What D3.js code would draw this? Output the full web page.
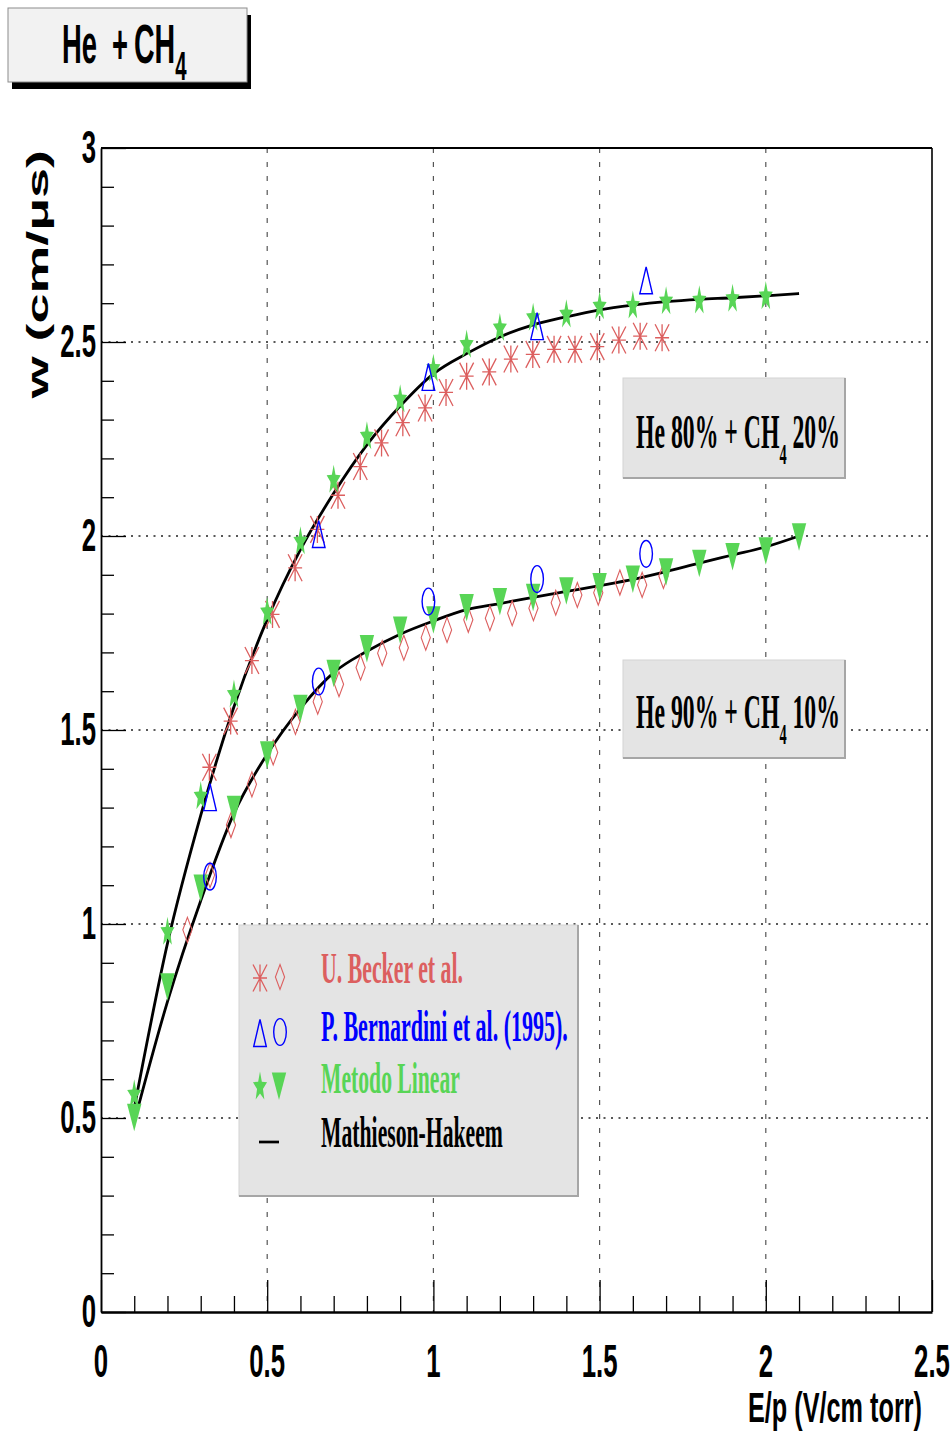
<!DOCTYPE html>
<html>
<head>
<meta charset="utf-8">
<script src="https://cdn.jsdelivr.net/npm/d3@7"></script>
<style>
  html, body { margin: 0; padding: 0; background: #fff; }
  svg { display: block; }
</style>
</head>
<body>
<script>
// ---- Data -------------------------------------------------------------

// Axis ticks
const xMajorTicks = [0, 0.5, 1, 1.5, 2, 2.5];
const xTickLabels = ["0", "0.5", "1", "1.5", "2", "2.5"];
const yMajorTicks = [0, 0.5, 1, 1.5, 2, 2.5, 3];
const yTickLabels = ["0", "0.5", "1", "1.5", "2", "2.5", "3"];

// U. Becker et al. — He 80% + CH4 20% (asterisks)
const beckerX80 = [0.326, 0.390, 0.454, 0.516, 0.584, 0.651, 0.713, 0.780, 0.844, 0.908, 0.975,
                   1.038, 1.100, 1.168, 1.233, 1.299, 1.363, 1.426, 1.493, 1.558, 1.622, 1.688];
const beckerY80 = [1.404, 1.523, 1.679, 1.798, 1.918, 2.017, 2.105, 2.179, 2.240, 2.292, 2.330,
                   2.370, 2.412, 2.423, 2.456, 2.468, 2.481, 2.481, 2.488, 2.505, 2.515, 2.511];

// U. Becker et al. — He 90% + CH4 10% (diamonds)
const beckerX90 = [0.260, 0.328, 0.391, 0.454, 0.518, 0.585, 0.652, 0.716, 0.781, 0.846, 0.911,
                   0.977, 1.041, 1.105, 1.170, 1.237, 1.301, 1.368, 1.433, 1.496, 1.561, 1.628, 1.692];
const beckerY90 = [0.985, 1.126, 1.255, 1.360, 1.442, 1.521, 1.573, 1.618, 1.661, 1.698, 1.712,
                   1.738, 1.758, 1.784, 1.788, 1.801, 1.814, 1.828, 1.848, 1.854, 1.880, 1.874, 1.897];

// P. Bernardini et al. (1995)
const bernardiniX = [0.328, 0.655, 0.985, 1.312, 1.640];
const bernardiniY80 = [1.327, 2.005, 2.410, 2.541, 2.659];   // triangles
const bernardiniY90 = [1.122, 1.625, 1.831, 1.889, 1.954];   // circles

// Metodo Linear
const linearX80 = [0.1, 0.2, 0.3, 0.4, 0.5, 0.6, 0.7, 0.8, 0.9, 1.0,
                   1.1, 1.2, 1.3, 1.4, 1.5, 1.6, 1.7, 1.8, 1.9, 2.0];
const linearY80 = [0.560, 0.979, 1.328, 1.590, 1.803, 1.985, 2.144, 2.256, 2.351, 2.430,
                   2.492, 2.535, 2.561, 2.570, 2.591, 2.593, 2.604, 2.606, 2.610, 2.617];
const linearX90 = [0.1, 0.2, 0.3, 0.4, 0.5, 0.6, 0.7, 0.8, 0.9, 1.0,
                   1.1, 1.2, 1.3, 1.4, 1.5, 1.6, 1.7, 1.8, 1.9, 2.0, 2.1];
const linearY90 = [0.502, 0.838, 1.093, 1.296, 1.436, 1.556, 1.646, 1.710, 1.758, 1.784,
                   1.816, 1.831, 1.842, 1.859, 1.870, 1.889, 1.908, 1.930, 1.947, 1.962, 1.998];

// Mathieson-Hakeem curves
const mhX = [0.1, 0.2, 0.3, 0.4, 0.5, 0.6, 0.7, 0.8, 0.9, 1.0, 1.1,
             1.2, 1.3, 1.4, 1.5, 1.6, 1.7, 1.8, 1.9, 2.0, 2.1];
const mhY80 = [0.525, 0.950, 1.280, 1.560, 1.785, 1.965, 2.110, 2.235, 2.335, 2.418, 2.470,
               2.513, 2.544, 2.565, 2.583, 2.595, 2.604, 2.610, 2.614, 2.619, 2.625];
const mhY90 = [0.490, 0.800, 1.060, 1.285, 1.438, 1.556, 1.648, 1.703, 1.747, 1.781, 1.810,
               1.826, 1.842, 1.857, 1.872, 1.888, 1.908, 1.930, 1.951, 1.972, 2.000];

// Legend entries
const legendLabels = ["U. Becker et al.", "P. Bernardini et al. (1995).", "Metodo Linear", "Mathieson-Hakeem"];

// ---- Style -------------------------------------------------------------
const RED = "#dc5f5f", BLUE = "#0000ff", GREEN = "#58d556";
const SANS = "'Liberation Sans', Arial, Helvetica, sans-serif";
const SERIF = "'Liberation Serif', 'Times New Roman', serif";

const svg = d3.select("body").append("svg")
  .attr("width", 952).attr("height", 1433);

const x = d3.scaleLinear().domain([0, 2.5]).range([101, 932]);
const y = d3.scaleLinear().domain([0, 3]).range([1312, 148]);

// Squeeze a text element horizontally so it spans [left, left+width]
function fitWidth(sel, left, width) {
  const b = sel.node().getBBox();
  const k = width / b.width;
  sel.attr("transform", `translate(${left},0) scale(${k},1) translate(${-b.x},0)`);
}

// ---- Grid --------------------------------------------------------------
const grid = svg.append("g");
grid.selectAll("line.vg").data([0.5, 1, 1.5, 2]).join("line")
  .attr("x1", d => x(d)).attr("x2", d => x(d))
  .attr("y1", y(3)).attr("y2", y(0))
  .attr("stroke", "#555").attr("stroke-width", 1.2).attr("stroke-dasharray", "5,9");
grid.selectAll("line.hg").data([0.5, 1, 1.5, 2, 2.5]).join("line")
  .attr("x1", x(0)).attr("x2", x(2.5))
  .attr("y1", d => y(d)).attr("y2", d => y(d))
  .attr("stroke", "#222").attr("stroke-width", 1.5).attr("stroke-dasharray", "2,5.5");

// ---- Axes --------------------------------------------------------------
const minorX = d3.range(1, 25).map(i => i / 10).filter(v => Math.abs(v * 2 - Math.round(v * 2)) > 1e-6);
const minorY = d3.range(1, 30).map(i => i / 10).filter(v => Math.abs(v * 2 - Math.round(v * 2)) > 1e-6);

const xAxisG = svg.append("g").attr("transform", `translate(0,${y(0)})`)
  .call(d3.axisBottom(x).tickValues(xMajorTicks).tickSizeInner(-32).tickSizeOuter(0).tickFormat(""));
svg.append("g").attr("transform", `translate(0,${y(0)})`)
  .call(d3.axisBottom(x).tickValues(minorX).tickSizeInner(-16).tickSizeOuter(0).tickFormat(""))
  .select(".domain").remove();
const yAxisG = svg.append("g").attr("transform", `translate(${x(0)},0)`)
  .call(d3.axisLeft(y).tickValues(yMajorTicks).tickSizeInner(-25).tickSizeOuter(0).tickFormat(""));
svg.append("g").attr("transform", `translate(${x(0)},0)`)
  .call(d3.axisLeft(y).tickValues(minorY).tickSizeInner(-13).tickSizeOuter(0).tickFormat(""))
  .select(".domain").remove();
svg.selectAll(".tick line").attr("stroke", "#000").attr("stroke-width", 1.3);
xAxisG.select(".domain").attr("stroke", "#000").attr("stroke-width", 2.6);
yAxisG.select(".domain").attr("stroke", "#000").attr("stroke-width", 1.8);

// Frame top and right
svg.append("line").attr("x1", x(0)).attr("x2", x(2.5)).attr("y1", y(3)).attr("y2", y(3))
  .attr("stroke", "#000").attr("stroke-width", 2);
svg.append("line").attr("x1", x(2.5)).attr("x2", x(2.5)).attr("y1", y(3)).attr("y2", y(0))
  .attr("stroke", "#000").attr("stroke-width", 1.6);

// Tick labels (bold condensed)
const SQ = 0.56;
svg.selectAll("text.ylab").data(yMajorTicks).join("text")
  .attr("transform", d => `translate(96,${y(d) + 15}) scale(${SQ},1)`)
  .attr("text-anchor", "end").attr("font-family", SANS).attr("font-weight", "bold")
  .attr("font-size", 46).text((d, i) => yTickLabels[i]);
svg.selectAll("text.xlab").data(xMajorTicks).join("text")
  .attr("transform", d => `translate(${x(d)},1377) scale(${SQ},1)`)
  .attr("text-anchor", "middle").attr("font-family", SANS).attr("font-weight", "bold")
  .attr("font-size", 46).text((d, i) => xTickLabels[i]);

// Axis titles
const xt = svg.append("text").attr("y", 1422).attr("font-family", SANS).attr("font-weight", "bold")
  .attr("font-size", 43).text("E/p (V/cm torr)");
fitWidth(xt, 748, 174);

const yg = svg.append("g").attr("transform", "translate(48,400) rotate(-90)");
const yt = yg.append("text").attr("x", 0).attr("y", 0).attr("font-family", SANS).attr("font-weight", "bold")
  .attr("font-size", 30).text("w (cm/\u03bcs)");
fitWidth(yt, 0, 250);

// ---- Markers -----------------------------------------------------------
function starPath(rx, ry) {
  const pts = [];
  for (let i = 0; i < 10; i++) {
    const a = i * Math.PI / 5, r = i % 2 ? 0.42 : 1;
    pts.push([r * rx * Math.sin(a), -r * ry * Math.cos(a)]);
  }
  return "M" + pts.map(p => p[0].toFixed(2) + "," + p[1].toFixed(2)).join("L") + "Z";
}
const shapes = {
  asterisk: { d: "M-7,0H7M0,-13.5V13.5M-7,-13.5L7,13.5M7,-13.5L-7,13.5", fill: "none", stroke: RED, sw: 1.3 },
  diamond:  { d: "M0,-12.5L4.6,0L0,12.5L-4.6,0Z", fill: "none", stroke: RED, sw: 1.1 },
  triUp:    { d: "M0,-13.5L6.3,13.5L-6.3,13.5Z", fill: "none", stroke: BLUE, sw: 1.4 },
  circle:   { d: "M6.3,0A6.3,13.4 0 1,1 -6.3,0A6.3,13.4 0 1,1 6.3,0Z", fill: "none", stroke: BLUE, sw: 1.4 },
  star:     { d: starPath(7.4, 15.5), fill: GREEN, stroke: "none", sw: 0 },
  triDown:  { d: "M-7.2,-13.5L7.2,-13.5L0,14Z", fill: GREEN, stroke: "none", sw: 0 }
};
function drawMarkers(g, xs, ys, shape) {
  const s = shapes[shape];
  g.selectAll(null).data(xs.map((v, i) => [v, ys[i]])).join("path")
    .attr("transform", d => `translate(${x(d[0])},${y(d[1])})`)
    .attr("d", s.d).attr("fill", s.fill).attr("stroke", s.stroke).attr("stroke-width", s.sw);
}

// ---- Curves ------------------------------------------------------------
const line = d3.line().x(d => x(d[0])).y(d => y(d[1])).curve(d3.curveMonotoneX);
const curves = svg.append("g");
[mhY80, mhY90].forEach(ys => {
  curves.append("path").attr("d", line(mhX.map((v, i) => [v, ys[i]])))
    .attr("fill", "none").attr("stroke", "#000").attr("stroke-width", 2.8);
});

const marks = svg.append("g");
drawMarkers(marks, beckerX80, beckerY80, "asterisk");
drawMarkers(marks, beckerX90, beckerY90, "diamond");
drawMarkers(marks, linearX80, linearY80, "star");
drawMarkers(marks, linearX90, linearY90, "triDown");
drawMarkers(marks, bernardiniX, bernardiniY80, "triUp");
drawMarkers(marks, bernardiniX, bernardiniY90, "circle");

// ---- Boxes -------------------------------------------------------------
function pave(g, x0, y0, x1, y1) {
  g.append("rect").attr("x", x0).attr("y", y0).attr("width", x1 - x0).attr("height", y1 - y0)
    .attr("fill", "#e4e4e4").attr("stroke", "#d4d4d4").attr("stroke-width", 1);
  g.append("path").attr("d", `M${x1},${y0}V${y1}H${x0}`)
    .attr("fill", "none").attr("stroke", "#a6a6a6").attr("stroke-width", 2);
}

// Mixture annotations
function mixLabel(x0, y0, x1, y1, base, a, b) {
  const g = svg.append("g");
  pave(g, x0, y0, x1, y1);
  const t = g.append("text").attr("y", base).attr("font-family", SERIF).attr("font-weight", "bold")
    .attr("font-size", 48);
  t.append("tspan").text(`He ${a}% + CH`);
  t.append("tspan").attr("font-size", 29).attr("dy", 16).text("4");
  t.append("tspan").attr("dy", -16).text(` ${b}%`);
  fitWidth(t, 636, 204);
}
mixLabel(623, 378, 845, 478, 448, 80, 20);
mixLabel(623, 660, 845, 758, 728, 90, 10);

// Legend
const lg = svg.append("g");
pave(lg, 239, 925, 578, 1196);
const legendColors = [RED, BLUE, GREEN, "#000"];
const legendBase = [983, 1041, 1093, 1147];
const legendWidth = [142, 247, 139, 182];
legendLabels.forEach((lab, i) => {
  const t = lg.append("text").attr("y", legendBase[i]).attr("font-family", SERIF)
    .attr("font-weight", "bold").attr("font-size", 45).attr("fill", legendColors[i]).text(lab);
  fitWidth(t, 321, legendWidth[i]);
});
function legendMarker(shape, cx, cy) {
  const s = shapes[shape];
  lg.append("path").attr("transform", `translate(${cx},${cy})`)
    .attr("d", s.d).attr("fill", s.fill).attr("stroke", s.stroke).attr("stroke-width", s.sw);
}
legendMarker("asterisk", 260, 978);
legendMarker("diamond", 280, 977);
legendMarker("triUp", 260, 1033);
legendMarker("circle", 280, 1032);
legendMarker("star", 260, 1087);
legendMarker("triDown", 279, 1086);
lg.append("line").attr("x1", 259).attr("x2", 279).attr("y1", 1142).attr("y2", 1142)
  .attr("stroke", "#000").attr("stroke-width", 2.7);

// ---- Title box ---------------------------------------------------------
const tg = svg.append("g");
tg.append("rect").attr("x", 12).attr("y", 15).attr("width", 239).attr("height", 74).attr("fill", "#000");
tg.append("rect").attr("x", 8).attr("y", 8).attr("width", 239).attr("height", 74)
  .attr("fill", "#f2f2f2").attr("stroke", "#8c8c8c").attr("stroke-width", 1);
function titlePart(str, left, width) {
  const t = tg.append("text").attr("y", 63).attr("font-family", SANS).attr("font-weight", "bold")
    .attr("font-size", 56).text(str);
  fitWidth(t, left, width);
  return t;
}
titlePart("He", 62, 35);
titlePart("+", 112, 16);
const ch = tg.append("text").attr("y", 63).attr("font-family", SANS).attr("font-weight", "bold")
  .attr("font-size", 56);
ch.append("tspan").text("CH");
ch.append("tspan").attr("font-size", 40).attr("dy", 17).text("4");
fitWidth(ch, 134, 53);
</script>
</body>
</html>
